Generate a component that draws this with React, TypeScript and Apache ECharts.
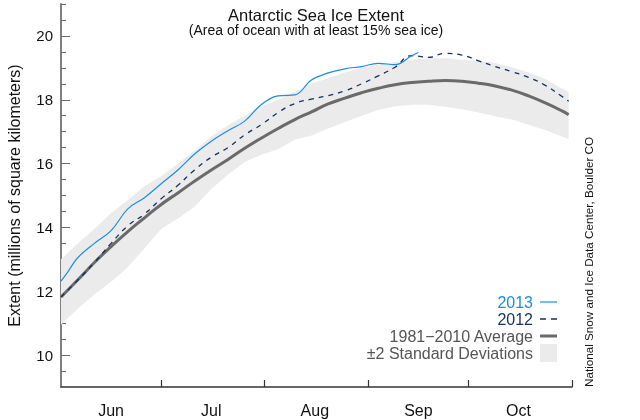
import React, { useEffect, useRef } from 'react';
import * as echarts from 'echarts';

// days since Jun 1
const days = [0, 5, 10, 15, 20, 25, 30, 35, 40, 45, 50, 55, 60, 65, 70, 75, 80, 85, 90, 95, 100, 105, 110, 115, 120, 125, 130, 135, 140, 145, 150, 152];
const avg = [11.82, 12.35, 12.9, 13.4, 13.87, 14.3, 14.72, 15.08, 15.45, 15.8, 16.13, 16.48, 16.8, 17.1, 17.38, 17.62, 17.87, 18.05, 18.22, 18.36, 18.47, 18.54, 18.58, 18.6, 18.58, 18.52, 18.43, 18.3, 18.12, 17.9, 17.65, 17.53];
const upper = [13.0, 13.5, 13.95, 14.45, 14.85, 15.3, 15.6, 16.0, 16.4, 16.85, 17.2, 17.5, 17.8, 18.0, 18.25, 18.5, 18.68, 18.85, 19.0, 19.1, 19.18, 19.25, 19.3, 19.3, 19.25, 19.22, 19.15, 19.02, 18.85, 18.65, 18.35, 18.26];
const lower = [10.95, 11.45, 11.9, 12.3, 12.75, 13.35, 13.95, 14.28, 14.65, 15.2, 15.65, 16.05, 16.28, 16.45, 16.75, 16.88, 17.1, 17.3, 17.5, 17.68, 17.8, 17.84, 17.84, 17.78, 17.7, 17.6, 17.48, 17.38, 17.22, 17.05, 16.85, 16.77];
const y2012 = [11.82, 12.35, 12.9, 13.5, 14.05, 14.42, 14.9, 15.32, 15.8, 16.2, 16.5, 16.9, 17.22, 17.6, 17.88, 18.02, 18.13, 18.28, 18.5, 18.75, 19.02, 19.38, 19.33, 19.45, 19.4, 19.22, 19.04, 18.88, 18.7, 18.45, 18.1, 17.95];
const days2013 = [0, 2, 5, 10, 15, 20, 25, 30, 35, 40, 45, 50, 55, 60, 65, 70, 75, 80, 85, 90, 95, 100, 105, 107];
const y2013 = [12.32, 12.6, 13.05, 13.5, 13.9, 14.58, 14.93, 15.37, 15.8, 16.3, 16.7, 17.03, 17.33, 17.85, 18.12, 18.15, 18.62, 18.84, 18.97, 19.04, 19.14, 19.1, 19.38, 19.48];

const monthStarts = [30, 61, 92, 122, 153];
const monthMids = [15, 45, 76, 107, 137];
const monthNames = ['Jun', 'Jul', 'Aug', 'Sep', 'Oct'];
const yLabels = [10, 12, 14, 16, 18, 20];

const FONT = '"Liberation Sans", Arial, Helvetica, sans-serif';
const BLUE = '#1a8ee0';
const NAVY = '#15315f';
const GRAY = '#6a6a6a';
const BAND = '#ebebeb';

const pairs = (xs: number[], ys: number[]) => xs.map((x, i) => [x, ys[i]]);

export default function App() {
  const ref = useRef<HTMLDivElement>(null);
  useEffect(() => {
    const chart = echarts.init(ref.current!, null, { renderer: 'svg' });
    const legendText = (text: string, y: number, fill: string) => ({
      type: 'text', x: 533, y,
      style: { text, font: `16px ${FONT}`, lineHeight: 15, fill, align: 'right', verticalAlign: 'middle' },
    });
    const option: any = {
      animation: false,
      textStyle: { fontFamily: FONT },
      grid: { left: 61, right: 68, top: 4, bottom: 33, outerBoundsMode: 'none', containLabel: false },
      xAxis: {
        type: 'value',
        min: 0,
        max: 153,
        splitLine: { show: false },
        axisLine: { show: true, lineStyle: { color: '#333', width: 1.5 } },
        axisTick: { show: true, inside: true, length: 7, lineStyle: { color: '#333', width: 1.2 }, customValues: monthStarts },
        axisLabel: {
          customValues: monthMids,
          formatter: (v: number) => monthNames[monthMids.indexOf(v)] || '',
          color: '#111', fontSize: 16, margin: 15, fontFamily: FONT,
        },
      },
      yAxis: [
        {
          type: 'value', min: 9, max: 21, interval: 0.5, position: 'left',
          splitLine: { show: false },
          axisLine: { show: true, lineStyle: { color: '#808080', width: 2 } },
          axisTick: { show: true, inside: true, length: 5, lineStyle: { color: '#666', width: 1 } },
          axisLabel: { show: false },
        },
        {
          type: 'value', min: 9, max: 21, position: 'left',
          splitLine: { show: false },
          axisLine: { show: false },
          axisTick: { show: true, inside: true, length: 9, lineStyle: { color: '#666', width: 1 }, customValues: yLabels },
          axisLabel: { customValues: yLabels, color: '#111', fontSize: 15, margin: 8, fontFamily: FONT },
          name: 'Extent (millions of square kilometers)',
          nameLocation: 'middle', nameGap: 39,
          nameTextStyle: { fontSize: 16, color: '#111', fontFamily: FONT },
        },
      ],
      series: [
        {
          name: '\u00b12 Standard Deviations', type: 'custom', yAxisIndex: 0, silent: true, z: 1,
          data: days.map((d, i) => [d, lower[i], upper[i]]),
          encode: { x: 0, y: [1, 2] },
          renderItem: (params: any, api: any) => {
            if (params.dataIndex !== 0) return null;
            const top = days.map((d, i) => api.coord([d, upper[i]]));
            const bot = days.map((d, i) => api.coord([d, lower[i]])).reverse();
            return { type: 'polygon', shape: { points: top.concat(bot) }, style: { fill: BAND } };
          },
        },
        {
          name: '1981-2010 Average', type: 'line', yAxisIndex: 0, smooth: true, symbol: 'none',
          lineStyle: { color: GRAY, width: 3 }, data: pairs(days, avg),
        },
        {
          name: '2012', type: 'line', yAxisIndex: 0, smooth: true, symbol: 'none',
          lineStyle: { color: NAVY, width: 1.3, type: [5, 5] }, data: pairs(days, y2012),
        },
        {
          name: '2013', type: 'line', yAxisIndex: 0, smooth: 0.4, symbol: 'none',
          lineStyle: { color: BLUE, width: 1.2 }, data: pairs(days2013, y2013),
        },
      ],
      graphic: [
        { type: 'text', x: 316, y: 14.5, style: { text: 'Antarctic Sea Ice Extent', font: `16.5px ${FONT}`, lineHeight: 16, fill: '#111', align: 'center', verticalAlign: 'middle' } },
        { type: 'text', x: 316, y: 30, style: { text: '(Area of ocean with at least 15% sea ice)', font: `14px ${FONT}`, lineHeight: 14, fill: '#111', align: 'center', verticalAlign: 'middle' } },
        { type: 'text', x: 588, y: 262, rotation: Math.PI / 2, style: { text: 'National Snow and Ice Data Center, Boulder CO', font: `11.7px ${FONT}`, fill: '#111', align: 'center', verticalAlign: 'middle' } },
        legendText('2013', 302, BLUE),
        legendText('2012', 319, NAVY),
        legendText('1981\u22122010 Average', 336, '#555'),
        legendText('\u00b12 Standard Deviations', 353, '#555'),
        { type: 'line', shape: { x1: 540, y1: 302, x2: 557, y2: 302 }, style: { stroke: BLUE, lineWidth: 1.2 } },
        { type: 'line', shape: { x1: 540, y1: 319, x2: 557, y2: 319 }, style: { stroke: NAVY, lineWidth: 1.3, lineDash: [6, 5] } },
        { type: 'line', shape: { x1: 540, y1: 336, x2: 557, y2: 336 }, style: { stroke: GRAY, lineWidth: 3 } },
        { type: 'rect', shape: { x: 540, y: 344, width: 17, height: 18 }, style: { fill: BAND } },
      ],
    };
    chart.setOption(option);
    return () => chart.dispose();
  }, []);
  return <div ref={ref} style={{ position: 'fixed', left: 0, top: 0, width: 640, height: 420 }} />;
}
